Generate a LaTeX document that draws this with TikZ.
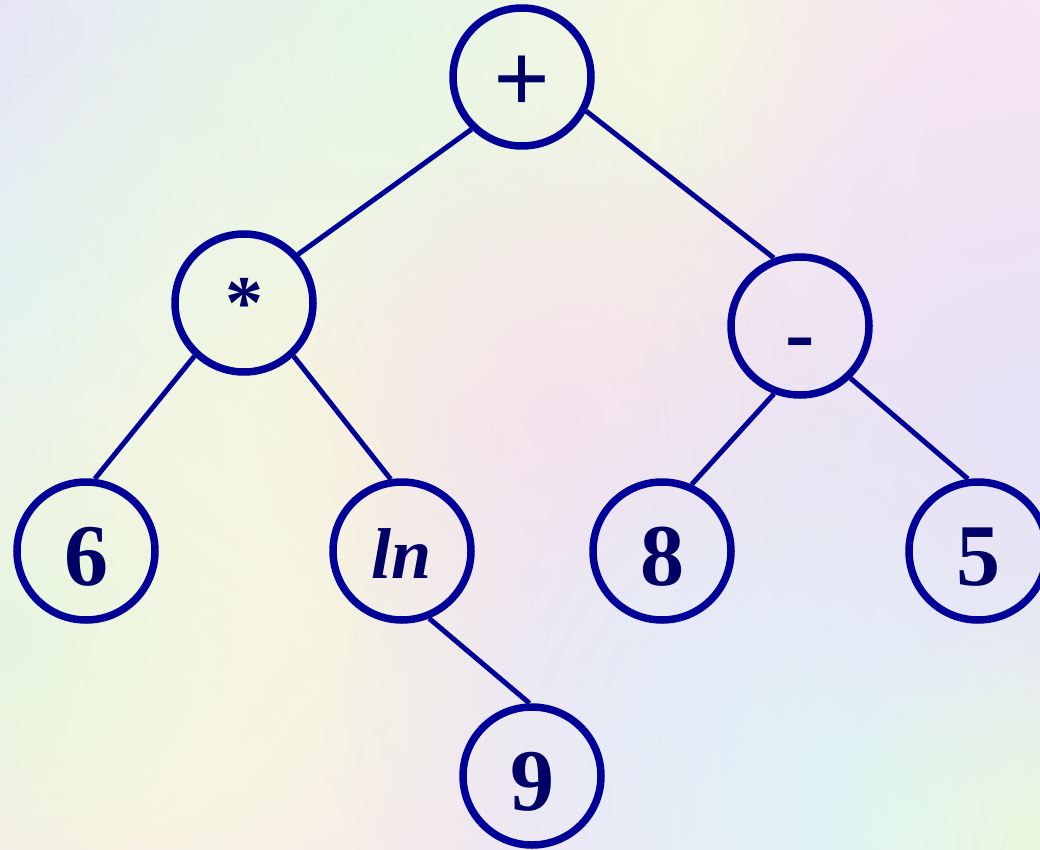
\documentclass[tikz,border=0pt]{standalone}
\usepackage{fontspec}
\setmainfont{Liberation Serif}
\usetikzlibrary{calc,fadings}
\definecolor{ring}{HTML}{000099}
\definecolor{ink}{HTML}{000066}
\definecolor{bgbase}{HTML}{F6E6F2}
\tikzfading[name=blobfade, inner color=transparent!0, outer color=transparent!100]
\newcommand\bgblob[4]{\definecolor{blobc}{HTML}{#1}\fill[blobc, path fading=blobfade] (#2,#3) circle[radius=#4pt];}
\begin{document}
\begin{tikzpicture}[x=1pt,y=-1pt,
  tnode/.style={circle, draw=ring, line width=7.5pt, minimum size=138pt, inner sep=0pt},
  edge/.style={draw=ring, line width=5pt},
  lbl/.style={text=ink, anchor=base, inner sep=0pt, font=\fontsize{88}{88}\selectfont\bfseries},
  lblplus/.style={lbl, font=\fontsize{100}{100}\selectfont\bfseries},
  lblstar/.style={lbl, font=\fontsize{76}{76}\selectfont\bfseries},
  lblit/.style={lbl, font=\fontsize{72}{72}\selectfont\bfseries\itshape}]
\useasboundingbox (0,0) rectangle (1040,850);
\clip (0,0) rectangle (1040,850);
% background
\fill[bgbase] (0,0) rectangle (1040,850);
\bgblob{F4ECF0}{520}{420}{700}
\bgblob{DCF4F8}{40}{260}{520}
\bgblob{E8E4F8}{0}{0}{300}
\bgblob{E2F8E6}{400}{60}{440}
\bgblob{F4F8E0}{680}{40}{300}
\bgblob{F6F8DE}{320}{440}{480}
\bgblob{F8F8DE}{130}{720}{400}
\bgblob{E6F6E0}{0}{640}{240}
\bgblob{F8E2EC}{560}{420}{300}
\bgblob{F8E4F4}{980}{160}{320}
\bgblob{E8E4F8}{700}{690}{380}
\bgblob{DEF6F8}{900}{800}{440}
\bgblob{E6E2F6}{1040}{420}{400}
\bgblob{EAF8DE}{1040}{850}{240}
% nodes
\node[tnode] (nplus) at (522,77) {};
\node[tnode] (nstar) at (244,303) {};
\node[tnode] (nminus) at (800,326) {};
\node[tnode] (nsix) at (86,551) {};
\node[tnode] (nln) at (402,551) {};
\node[tnode] (neight) at (662,551) {};
\node[tnode] (nfive) at (978,551) {};
\node[tnode] (nnine) at (532,776) {};
% labels
\node[lblplus] (tplus) at ($(nplus)+(0,36)$) {+};
\node[lblstar] (tstar) at ($(nstar)+(0,25)$) {*};
\node[lbl] (tminus) at ($(nminus)+(0,36)$) {-};
\node[lbl] (tsix) at ($(nsix)+(0,34)$) {6};
\node[lblit] (tln) at ($(nln)+(0,27)$) {ln};
\node[lbl] (teight) at ($(neight)+(0,34)$) {8};
\node[lbl] (tfive) at ($(nfive)+(0,34)$) {5};
\node[lbl] (tnine) at ($(nnine)+(0,34)$) {9};
% connectors
\draw[edge] (nplus.226) -- (nstar.42);
\draw[edge] (nplus.332) -- (nminus.111);
\draw[edge] (nstar.227) -- (nsix.83);
\draw[edge] (nstar.313) -- (nln.99);
\draw[edge] (nminus.249) -- (neight.66);
\draw[edge] (nminus.314) -- (nfive.98);
\draw[edge] (nln.292) -- (nnine.92);
\end{tikzpicture}
\end{document}
